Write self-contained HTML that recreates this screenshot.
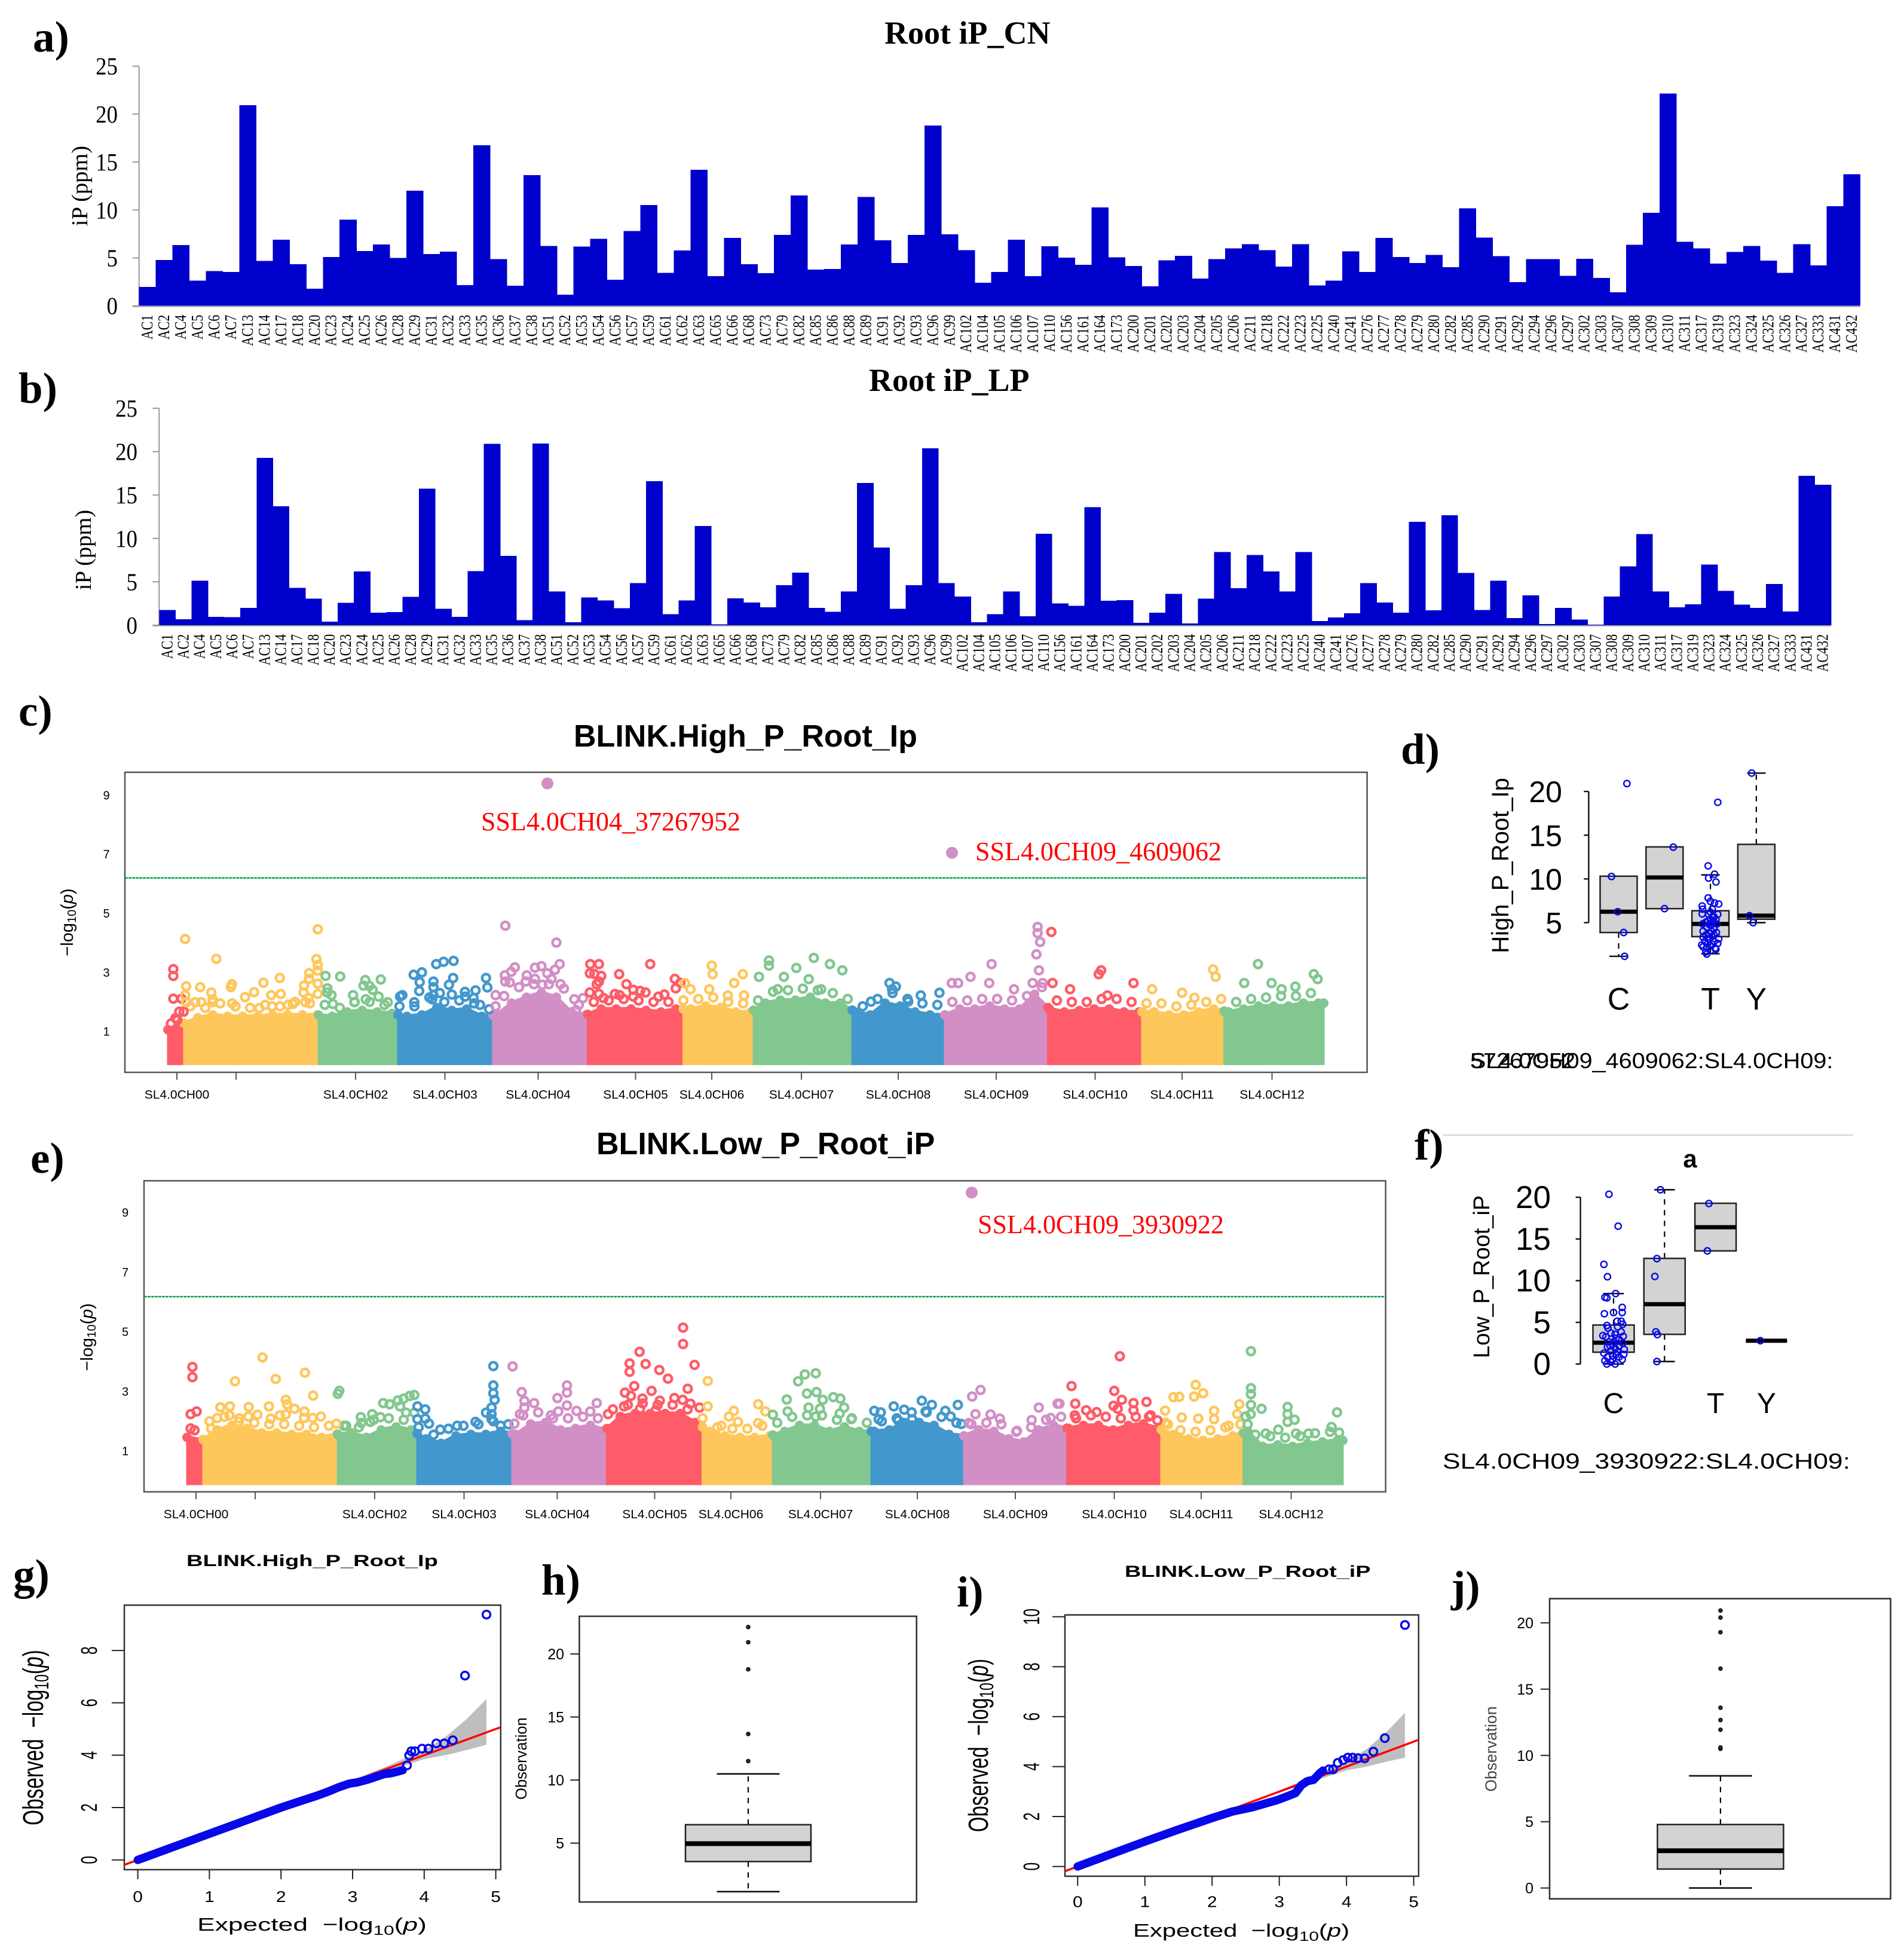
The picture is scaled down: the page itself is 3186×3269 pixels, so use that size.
<!DOCTYPE html>
<html lang="en">
<head>
<meta charset="utf-8">
<title>Root iP GWAS figure</title>
<style>
html,body{margin:0;padding:0;background:#fff;width:3186px;height:3269px;overflow:hidden}
svg{display:block}
.serif{font-family:"Liberation Serif",serif}
.sans{font-family:"Liberation Sans",sans-serif}
</style>
</head>
<body>
<svg id="figure" xmlns="http://www.w3.org/2000/svg" width="3186" height="3269" viewBox="0 0 3186 3269">
<rect x="0" y="0" width="3186" height="3269" fill="#fff"/>

<g class="serif" font-weight="700" font-size="73" fill="#000">
<text x="55" y="86">a)</text>
<text x="31" y="674">b)</text>
<text x="31" y="1214">c)</text>
<text x="2344" y="1278">d)</text>
<text x="51" y="1962">e)</text>
<text x="2367" y="1940">f)</text>
<text x="22" y="2659">g)</text>
<text x="906" y="2668">h)</text>
<text x="1601" y="2688">i)</text>
<text x="2428" y="2679">j)</text>
</g>

<g class="serif" font-weight="700" font-size="54" fill="#000">
<text x="1480" y="73">Root iP_CN</text>
<text x="1454" y="654">Root iP_LP</text>
</g>
<g class="serif" font-size="38.5" fill="#000" text-anchor="middle">
<text transform="translate(146,311) rotate(-90)">iP (ppm)</text>
<text transform="translate(152,920) rotate(-90)">iP (ppm)</text>
</g>

<g class="sans" font-weight="700" fill="#000">
<text x="960" y="1249" font-size="52">BLINK.High_P_Root_Ip</text>
<text x="998" y="1931" font-size="52">BLINK.Low_P_Root_iP</text>
<text transform="translate(312,2620) scale(1.41,1)" font-size="27">BLINK.High_P_Root_Ip</text>
<text transform="translate(1882,2638) scale(1.4,1)" font-size="27">BLINK.Low_P_Root_iP</text>
<text x="2828" y="1953" font-size="42" text-anchor="middle">a</text>
</g>

<g class="serif" font-size="44" fill="#f00">
<text x="805" y="1389">SSL4.0CH04_37267952</text>
<text x="1632" y="1439">SSL4.0CH09_4609062</text>
<text x="1636" y="2063">SSL4.0CH09_3930922</text>
</g>

<g class="sans" font-size="29" fill="#000" text-anchor="middle">
<text transform="translate(122,1543) rotate(-90)">−log<tspan font-size="20" dy="5">10</tspan><tspan dy="-5">(</tspan><tspan font-style="italic">p</tspan>)</text>
<text transform="translate(155,2237) rotate(-90)">−log<tspan font-size="20" dy="5">10</tspan><tspan dy="-5">(</tspan><tspan font-style="italic">p</tspan>)</text>
</g>

<g class="sans" fill="#000">
<text transform="translate(2524,1448) rotate(-90)" font-size="40" text-anchor="middle">High_P_Root_Ip</text>
<text transform="translate(2492,2136) rotate(-90)" font-size="38" text-anchor="middle">Low_P_Root_iP</text>
<text transform="translate(2460,1787) scale(1.1,1)" font-size="36">SL4.0CH09_4609062:SL4.0CH09:</text>
<text transform="translate(2460,1787) scale(1.1,1)" font-size="36">57267952</text>
<text transform="translate(2414,2457) scale(1.235,1)" font-size="36">SL4.0CH09_3930922:SL4.0CH09:</text>
<text transform="translate(72,2907) rotate(-90) scale(.695,1)" font-size="48" text-anchor="middle">Observed&#160;&#160;−log<tspan font-size="33" dy="9">10</tspan><tspan dy="-9">(</tspan><tspan font-style="italic">p</tspan>)</text>
<text transform="translate(1653,2920) rotate(-90) scale(.716,1)" font-size="46" text-anchor="middle">Observed&#160;&#160;−log<tspan font-size="32" dy="9">10</tspan><tspan dy="-9">(</tspan><tspan font-style="italic">p</tspan>)</text>
<text transform="translate(522,3230) scale(1.43,1)" font-size="31" text-anchor="middle">Expected&#160;&#160;−log<tspan font-size="22" dy="7">10</tspan><tspan dy="-7">(</tspan><tspan font-style="italic">p</tspan>)</text>
<text transform="translate(2077,3240) scale(1.35,1)" font-size="31" text-anchor="middle">Expected&#160;&#160;−log<tspan font-size="22" dy="7">10</tspan><tspan dy="-7">(</tspan><tspan font-style="italic">p</tspan>)</text>
<text transform="translate(881,2942) rotate(-90)" font-size="25.5" text-anchor="middle">Observation</text>
<text transform="translate(2504,2926) rotate(-90)" font-size="26.5" fill="#444" text-anchor="middle">Observation</text>
</g>
<line x1="2414" y1="1899" x2="3101" y2="1899" stroke="#d8d8d8" stroke-width="2.5"/>
</svg>

<script>
/* ---------- Panels a and b: accession bar charts ---------- */
const accessions = ["AC1","AC2","AC4","AC5","AC6","AC7","AC13","AC14","AC17","AC18","AC20","AC23","AC24","AC25","AC26","AC28","AC29","AC31","AC32","AC33","AC35","AC36","AC37","AC38","AC51","AC52","AC53","AC54","AC56","AC57","AC59","AC61","AC62","AC63","AC65","AC66","AC68","AC73","AC79","AC82","AC85","AC86","AC88","AC89","AC91","AC92","AC93","AC96","AC99","AC102","AC104","AC105","AC106","AC107","AC110","AC156","AC161","AC164","AC173","AC200","AC201","AC202","AC203","AC204","AC205","AC206","AC211","AC218","AC222","AC223","AC225","AC240","AC241","AC276","AC277","AC278","AC279","AC280","AC282","AC285","AC290","AC291","AC292","AC294","AC296","AC297","AC302","AC303","AC307","AC308","AC309","AC310","AC311","AC317","AC319","AC323","AC324","AC325","AC326","AC327","AC333","AC431","AC432"];
const rootIpCn = [1.98,4.77,6.35,2.62,3.63,3.55,20.94,4.7,6.89,4.34,1.79,5.1,8.99,5.73,6.39,5.0,12.0,5.39,5.65,2.17,16.75,4.87,2.1,13.65,6.25,1.17,6.2,6.99,2.72,7.82,10.52,3.44,5.77,14.19,3.1,7.08,4.34,3.41,7.39,11.5,3.77,3.86,6.39,11.35,6.85,4.48,7.39,18.8,7.47,5.82,2.41,3.55,6.89,3.1,6.23,5.03,4.29,10.28,5.06,4.17,2.03,4.75,5.22,2.86,4.87,6.01,6.42,5.82,4.1,6.42,2.12,2.62,5.68,3.55,7.08,5.08,4.46,5.3,4.03,10.16,7.11,5.2,2.48,4.87,4.87,3.12,4.91,2.91,1.43,6.37,9.71,22.14,6.68,6.01,4.41,5.61,6.25,4.72,3.44,6.42,4.22,10.4,13.72];
const rootIpLp = [1.75,0.69,5.14,0.96,0.93,1.99,19.27,13.72,4.3,3.05,0.42,2.58,6.19,1.45,1.52,3.27,15.73,1.89,0.96,6.22,20.9,7.99,0.59,20.94,3.88,0.34,3.2,2.85,1.97,4.84,16.59,1.28,2.85,11.43,0.1,3.1,2.63,2.06,4.62,6.07,1.99,1.55,3.88,16.4,8.95,1.89,4.62,20.38,4.84,3.32,0.34,1.28,3.88,1.03,10.55,2.51,2.24,13.59,2.83,2.88,0.27,1.45,3.61,0.2,3.05,8.43,4.28,8.09,6.19,3.88,8.43,0.49,0.91,1.38,4.84,2.63,1.45,11.92,1.72,12.68,6.02,1.77,5.14,0.84,3.44,0.15,1.99,0.66,0.07,3.32,6.78,10.5,3.88,2.06,2.41,6.98,3.96,2.38,1.99,4.74,1.6,17.23,16.17];
const barTicks = [0,5,10,15,20,25];

/* ---------- Panels c and e: Manhattan plots (x = cumulative Mb) ---------- */
const chromBounds = [0,10.8,100.8,154,217.6,281,345,392,458,520,589,652,707,773.6];
const chromTickMb = [6,45.6,125.6,185.4,247.8,313,364,424,488.8,554.4,620.6,678.8,739];
const chromTickLabels = ["SL4.0CH00","","SL4.0CH02","SL4.0CH03","SL4.0CH04","SL4.0CH05","SL4.0CH06","SL4.0CH07","SL4.0CH08","SL4.0CH09","SL4.0CH10","SL4.0CH11","SL4.0CH12"];
const logpTicks = [1,3,5,7,9];
const highThreshold = 6.2;
const lowThreshold = 6.18;
/* upper edge of the dense point mass, one value every 10 Mb */
const highEnvelope = [1.1,1.3,1.5,1.6,1.55,1.55,1.55,1.6,1.6,1.6,1.6,1.55,1.7,1.75,1.7,1.65,1.55,1.6,1.85,1.75,1.8,1.55,1.6,2.0,2.2,2.35,2.2,1.7,1.6,1.8,1.8,1.8,1.75,1.7,1.8,1.8,1.9,1.85,1.7,1.7,2.0,2.1,2.1,2.2,2.0,2.0,1.7,1.6,2.0,1.9,1.7,1.6,1.6,1.8,1.8,1.9,1.8,1.8,2.3,1.8,1.7,1.75,1.8,1.8,1.7,1.7,1.7,1.6,1.6,1.7,1.8,1.7,1.8,1.9,1.9,1.9,2.0,2.0];
const lowEnvelope = [1.5,1.4,1.75,1.9,1.8,1.65,1.65,1.6,1.6,1.5,1.6,1.65,1.5,1.75,1.85,1.75,1.45,1.3,1.55,1.6,1.6,1.7,1.6,1.95,2.0,1.75,1.8,1.9,1.75,2.2,2.3,2.3,2.3,2.3,2.0,1.7,1.55,1.5,1.5,1.55,1.7,1.9,1.9,1.7,1.85,1.7,1.7,1.75,2.0,2.0,1.9,1.6,1.55,1.75,1.7,1.45,1.35,1.75,1.9,1.8,1.9,1.9,1.75,1.9,1.95,1.8,1.6,1.45,1.4,1.45,1.55,1.7,1.2,1.25,1.2,1.3,1.35,1.4];
/* sparser ring fringe sitting just above the mass, one value at 5, 15, 25 ... Mb */
const highFringe = [1.45,1.85,1.8,1.95,1.85,1.8,1.9,1.85,2.0,1.95,1.9,1.8,2.0,2.0,1.9,1.85,1.85,2.15,2.0,2.05,1.95,1.75,2.2,2.5,2.6,2.6,2.45,1.9,2.0,2.05,2.1,2.05,2.0,2.0,2.05,2.1,2.15,2.0,1.95,2.05,2.35,2.4,2.45,2.4,2.3,2.1,1.85,2.1,2.3,2.1,1.95,1.9,2.0,2.05,2.1,2.1,2.05,2.2,2.5,2.05,2.0,2.0,2.1,2.1,2.0,1.95,1.95,1.85,1.9,2.0,2.1,2.0,2.1,2.15,2.2,2.2,2.3];
const lowFringe = [1.7,2.0,2.15,2.1,1.95,1.9,1.9,1.85,1.8,1.85,1.85,1.8,2.05,2.1,2.05,1.8,1.55,1.75,1.85,1.9,2.0,1.9,2.2,2.3,2.1,2.1,2.15,2.1,2.4,2.55,2.6,2.55,2.55,2.4,2.1,1.8,1.75,1.75,1.85,1.95,2.15,2.2,2.2,2.05,2.1,1.95,2.0,2.1,2.3,2.3,2.15,1.95,1.9,1.95,1.9,1.65,1.8,2.05,2.15,2.1,2.2,2.15,2.1,2.15,2.2,1.95,1.7,1.65,1.7,1.8,1.9,1.55,1.5,1.45,1.5,1.6,1.65];
/* individually visible markers: [Mb, -log10 p] */
const highHits = [[3.6,3.11],[3.6,2.88],[3.6,2.11],[9.1,2.11],[7.6,1.67],[10.5,1.67],[6.3,1.39],[2,1.27],
[11.5,4.13],[32.4,3.46],[100.3,4.46],[99.4,3.45],[100.3,3.25],[100.3,3.06],[94.5,2.97],[94.5,2.78],[74.9,2.81],[63.9,2.65],[42.8,2.6],[42.2,2.5],[21.6,2.5],[12.2,2.53],[11.5,2.23],[29,2.32],[29.9,2.09],[29.9,1.99],[57.7,2.33],[51.6,2.16],[75.5,2.27],[69.1,2.23],[91.1,2.55],[90.8,2.32],[100.3,2.62],[100.3,2.27],[94.2,2.13],[92,1.99],[12.2,1.99],[18.3,1.99],[22.3,1.99],[43,1.95],[45.2,1.85],[61.1,1.79],[69.7,1.85],[80.4,1.9],[83.5,1.93],
[105.5,2.88],[115.3,2.86],[132.1,2.74],[142.5,2.76],[130.9,2.55],[134.9,2.54],[137,2.41],[106.7,2.46],[106.7,2.32],[109.5,2.23],[123.9,2.23],[141,2.18],[110.4,1.93],[132.4,2.09],[147.1,1.99],[124.8,1.99],
[179.6,3.28],[184.5,3.36],[191.2,3.39],[170,3.0],[164.5,2.92],[168.5,2.67],[190.9,2.81],[177.7,2.69],[177.7,2.5],[188.1,2.58],[212.9,2.81],[213.8,2.49],[168.2,2.37],[156.9,2.23],[155.4,2.18],[182,2.3],[177.7,2.23],[190,2.25],[198.8,2.34],[205.9,2.39],[164.9,1.99],[176.8,2.09],[204.6,2.13],[198.8,2.18],[208.9,1.9],
[225.8,4.58],[260,4.01],[262.2,3.28],[232.2,3.17],[250,3.21],[245.7,3.16],[259.1,3.09],[253.9,2.97],[225.5,2.9],[229.8,3.02],[225.8,2.69],[228.8,2.66],[256.7,2.78],[240.2,2.9],[245.7,2.78],[239.5,2.69],[219.3,2.23],[219.3,1.85],[262.8,2.6],[250.6,2.58],[272,2.09],[277.8,2.13],[273.2,1.72],
[282.7,3.28],[288.5,3.28],[282.4,2.97],[285.4,2.95],[290,2.88],[288.5,2.69],[287,2.6],[322.8,3.28],[302,2.94],[306.9,2.6],[339.3,2.78],[343,2.65],[339.9,2.46],[311.5,2.41],[316.1,2.37],[319.7,2.32],[282.4,2.32],[288.5,2.27],[299.2,2.27],[302.3,2.23],[332.3,2.25],[328.3,2.18],[291.6,2.13],[311.5,2.18],
[364,3.23],[364.6,2.94],[346,2.64],[384.8,2.94],[349.8,2.43],[362.3,2.43],[379,2.64],[385.6,2.22],[374.8,2.22],
[402.3,3.4],[402.3,3.23],[432.3,3.49],[420.6,3.15],[443.1,3.28],[451.4,3.07],[395.6,2.85],[412.3,2.85],[428.9,2.77],[408.1,2.43],[437.2,2.43],
[483,2.64],[484.7,2.43],[487.2,2.52],[470.6,2.01],[503.9,2.22],[516.4,2.31],[495.5,2.01],
[582.1,4.54],[582.1,4.33],[583.8,4.03],[551.3,3.28],[581.3,3.61],[524.7,2.64],[528.9,2.64],[537.2,2.85],[549.7,2.64],[566.3,2.43],[583,3.07],[578.8,2.64],[585.5,2.64],
[591.3,4.37],[592.1,2.64],[624.6,3.07],[623,2.94],[646.3,2.64],[603.8,2.43],[628.8,2.22],
[699.6,3.1],[701.3,2.85],[658.8,2.43],[678.8,2.31],[687.1,2.14],
[729.6,3.28],[767,2.94],[769.5,2.77],[738.7,2.64],[754.6,2.52],[720.4,2.64],[745.4,2.43]];
const highPeaks = [[254,9.4],[524.8,7.05]];
const lowHits = [[3.6,3.82],[3.6,3.48],[6.4,2.33],[2.4,2.24],[2.4,1.76],
[50.5,4.14],[32.1,3.34],[59.3,3.42],[78.9,3.63],[84.4,2.86],[66.1,2.72],[67,2.57],[54.8,2.5],[22.3,2.47],[28.7,2.5],[41.3,2.48],[71.9,2.42],[41,2.16],[47.1,2.22],[66.1,2.23],[78.6,2.33],[89.6,2.16],[84.1,2.11],[56,2.09],[62.1,2.2],[78.3,2.11],[34.6,1.98],[28.4,2.2],[20.2,2.11],[16.2,1.76],[100,1.92],
[101.9,3.02],[100.9,2.92],[131.3,2.61],[135.6,2.57],[141.1,2.7],[145,2.76],[149,2.85],[152.1,2.88],[142.6,2.5],[146.6,2.29],[152.1,2.29],[123.9,2.24],[116.3,2.14],[129.4,2.14],[106.5,1.85],[116.6,1.94],[122.7,1.98],
[154.2,2.5],[159.4,2.4],[154.2,2.07],[159.4,2.09],[161.9,1.92],[169.5,1.72],[205,3.85],[205,3.2],[205,2.94],[205.9,2.72],[203.8,2.46],[200.1,2.29],[203.8,2.24],[203.8,2.07],[193.1,1.98],[180.8,1.85],[209.9,1.85],
[217.9,3.84],[224,2.98],[254.3,3.2],[254.3,2.96],[247.9,2.78],[225.8,2.68],[232.3,2.61],[254.3,2.53],[274.2,2.61],[222.8,2.24],[225.8,2.46],[248.5,2.33],[260.7,2.35],[269.9,2.33],[243.6,2.2],[219.1,1.92],
[332,5.14],[332,4.59],[302.9,4.33],[296.2,3.94],[306.9,3.92],[296.2,3.66],[339.7,3.89],[316.1,3.72],[321.9,3.43],[299.3,3.18],[335.1,3.09],[293.1,2.96],[297.1,2.85],[310.9,3.02],[304.8,2.76],[326.2,2.78],[331.7,2.72],[316.4,2.69],[336.9,2.59],[343,2.46],[292.5,2.5],[303.2,2.42],[281.8,2.24],[313.7,2.37],
[348.5,3.35],[348.5,2.5],[366,2.35],[382.3,2.57],[387.1,2.33],[362.7,2.16],[382.3,1.94],[368.8,1.98],[357.6,1.85],
[409,3.34],[413.5,3.57],[420.8,3.61],[414.9,2.93],[421.3,2.98],[401.4,2.73],[425.5,2.72],[432.6,2.81],[437.3,2.76],[439.8,2.46],[416,2.46],[402,2.33],[392.1,2.22],[423.6,2.42],[436.8,2.26],[420.8,2.16],[444.6,2.07],
[460,2.35],[464.3,2.3],[473,2.5],[480,2.39],[491.8,2.69],[498.5,2.55],[515.9,2.55],[494.3,2.33],[507.5,2.35],[476,2.03],[485.3,2.07],[511.1,2.16],[518.2,1.91],[462.9,2.07],
[531.1,3.05],[525.5,2.83],[570.1,2.46],[582.7,2.59],[583.9,2.59],[527.7,2.24],[537.8,2.23],[544,2.09],[565.3,2.04],[578,2.11],[523.2,1.94],[555.5,1.68],
[624.3,4.18],[592,3.18],[620.6,3.02],[625.7,2.72],[620.1,2.52],[622.9,2.42],[633.5,2.61],[642.2,2.65],[633.5,2.37],[594.5,2.59],[601.8,2.37],[608.8,2.31],[594.2,2.2],[643.9,2.16],[649.5,2.03],
[675.1,3.22],[674,2.83],[680.1,2.94],[660.2,2.81],[664.1,2.82],[654.6,2.36],[704.3,2.57],[702.9,2.24],[687.4,2.35],[665.8,2.13],[676.8,2.09],[687.4,2.07],[697.2,1.85],[656.6,1.9],
[712.1,4.35],[712.1,3.11],[712.1,2.91],[712.1,2.55],[719.2,2.42],[736.6,2.48],[736.6,2.24],[741.3,2.05],[736.6,1.98],[769.7,2.3],[708.5,2.16],[711.9,2.24],[709.9,1.9],[722,1.59],[730.4,1.72],[766,1.81],[771.1,1.62],[742.2,1.59],[750.6,1.59]];
const lowPeaks = [[525.2,9.67]];

/* ---------- Panels d and f: genotype boxplots ---------- */
const boxHighTicks = [5,10,15,20];
const boxHighLabels = ["C","","T","Y"];
const boxHighQ1 = [3.87,6.6,3.4,5.39];
const boxHighMedian = [6.25,10.16,4.85,5.8];
const boxHighQ3 = [10.31,13.66,6.36,13.95];
const boxHighLow = [1.15,6.6,1.44,5.0];
const boxHighHigh = [10.31,13.66,10.46,22.1];
/* jittered accessions: [group position, value] */
const boxHighPoints = [[0.18,20.9],[-0.155,10.28],[-0.02,6.25],[0.11,3.87],[0.13,1.15],[1.19,13.63],[1,6.6],[2.9,22.1],[2.85,5.8],[2.93,5.0],
[2.16,18.76],[1.95,11.49],[2.09,10.54],[1.96,10.1],[2.12,9.65],[1.95,7.82],[2,7.43],[2.09,7.25],[2.18,7.13],[1.82,6.9],[2.04,6.54],[1.83,6.54],[1.82,6],[2.16,5.95],[1.96,5.95],[2.08,5.65],[2,5.36],[1.83,4.85],[2.14,4.85],[1.98,4.76],[1.92,4.47],[2.08,4.32],[1.84,4.02],[2.02,4.02],[2.13,3.87],[1.9,3.58],[2.04,3.43],[1.84,3.34],[1.96,3.13],[2.18,3.13],[1.88,2.84],[2.08,2.84],[2.16,2.63],[1.81,2.45],[2,2.39],[1.92,2.15],[2.1,2.09],[1.84,2.24],[2,1.8],[1.9,1.65],[1.92,1.41],[2.12,1.95],[2,6.2],[2.04,5.65],[1.95,5.2],[2.12,5.36],[2.02,4.76],[1.9,5.05],[2.04,5.05],[1.98,3.73],[2.08,3.58],[1.95,2.69],[2.04,2.54]];
const boxLowTicks = [0,5,10,15,20];
const boxLowLabels = ["C","","T","Y"];
const boxLowQ1 = [1.42,3.56,13.57,2.8];
const boxLowMedian = [2.56,7.18,16.41,2.8];
const boxLowQ3 = [4.68,12.67,19.28,2.8];
const boxLowLow = [0,0.3,13.57,2.8];
const boxLowHigh = [8.45,20.9,19.28,2.8];
const boxLowPoints = [[0.92,20.9],[0.85,12.64],[0.81,10.5],[0.83,3.86],[0.86,3.53],[0.85,0.3],[1.87,19.25],[1.84,13.57],[2.88,2.8],
[-0.09,20.36],[0.09,16.53],[-0.19,11.95],[-0.12,10.47],[0.04,8.45],[-0.17,8],[-0.13,7.93],[0.17,6.79],[0,6.18],[0.17,6.18],[-0.18,6.03],[0.07,5.13],[0.15,5.13],[0.18,4.77],[-0.13,4.62],[-0.11,4.31],[0.08,4.46],[-0.05,3.71],[0.15,3.86],[-0.21,3.41],[0.19,3.32],[-0.15,3.26],[0.05,3.1],[-0.09,2.65],[0.18,2.5],[-0.02,2.35],[0.11,2.2],[-0.12,2.05],[0.03,1.9],[0.21,1.75],[-0.05,1.6],[-0.19,1.3],[0.08,1.45],[0.2,1.15],[-0.02,1],[0.11,0.84],[-0.12,0.84],[-0.17,0.39],[0.17,0.54],[-0.05,0.24],[0.03,0],[-0.13,0],[-0.02,0.54],[0.05,1.15],[-0.07,2.2],[0.01,2.65],[0.11,2.95],[0.03,3.56]];

/* ---------- Panels g and i: QQ plots ---------- */
const qqXTicks = [0,1,2,3,4,5];
const qqHighYTicks = [0,2,4,6,8];
const qqLowYTicks = [0,2,4,6,8,10];
const qqHighBulkExpected = [0,0.5,1,1.5,2,2.33,2.5,2.67,2.8,2.95,3.06,3.19,3.31,3.44,3.53,3.61,3.7];
const qqHighBulkObserved = [0,0.5,1,1.5,2,2.3,2.45,2.62,2.77,2.91,2.96,3.05,3.16,3.28,3.31,3.36,3.43];
const qqHighRingExpected = [3.76,3.79,3.82,3.87,3.97,4.06,4.17,4.28,4.4,4.57,4.87];
const qqHighRingObserved = [3.61,3.99,4.15,4.15,4.25,4.25,4.45,4.45,4.57,7.04,9.37];
const qqHighBandExpected = [3,3.5,4,4.3,4.6,4.87];
const qqHighBandUpper = [3.05,3.6,4.2,4.7,5.4,6.15];
const qqHighBandLower = [2.95,3.4,3.85,4.0,4.2,4.4];
const qqLowBulkExpected = [0,0.5,1,1.5,2,2.3,2.6,2.79,2.97,3.1,3.24,3.33,3.42,3.51,3.6,3.65];
const qqLowBulkObserved = [0,0.5,1,1.48,1.94,2.2,2.37,2.52,2.66,2.79,2.94,3.26,3.42,3.47,3.73,3.84];
const qqLowRingExpected = [3.74,3.8,3.87,3.95,4.02,4.09,4.17,4.27,4.4,4.57,4.87];
const qqLowRingObserved = [3.89,3.89,4.15,4.26,4.36,4.36,4.34,4.33,4.6,5.14,9.67];
const qqLowBandExpected = [3,3.5,4,4.3,4.6,4.87];
const qqLowBandUpper = [3.05,3.6,4.2,4.7,5.4,6.15];
const qqLowBandLower = [2.95,3.4,3.85,4.0,4.2,4.36];

/* ---------- Panels h and j: overall boxplots ---------- */
const overallHighTicks = [5,10,15,20];
const overallHighStats = [1.15,3.54,4.96,6.46,10.49];
const overallHighOutliers = [22.13,20.93,18.78,13.65,11.5];
const overallLowTicks = [0,5,10,15,20];
const overallLowStats = [0,1.43,2.81,4.79,8.46];
const overallLowOutliers = [20.93,20.4,19.29,16.55,13.6,12.67,11.94,10.5,10.6];

/* ---------- drawing helpers ---------- */
const NS = "http://www.w3.org/2000/svg";
const figure = document.getElementById("figure");
const CHROM_COLORS = ["#FE5C68","#FEC75C","#82C78F","#4298CC","#D28FC5"];
const POINT_BLUE = "#0808E8";

function shape(tag, attrs) {
  const el = document.createElementNS(NS, tag);
  for (const k in attrs) el.setAttribute(k, attrs[k]);
  figure.appendChild(el);
  return el;
}
function label(str, x, y, o) {
  const el = document.createElementNS(NS, "text");
  el.textContent = str;
  el.setAttribute("font-family", o.family || '"Liberation Sans", sans-serif');
  el.setAttribute("font-size", o.size);
  el.setAttribute("fill", o.fill || "#000");
  el.setAttribute("text-anchor", o.anchor || "middle");
  el.setAttribute("transform", `translate(${x},${y}) rotate(${o.rot || 0}) scale(${o.sx || 1},1)`);
  figure.appendChild(el);
  return el;
}

/* ---------- bar panels ---------- */
function drawBars(values, left, step, zeroY, unit, tickLabelX, panel) {
  const xOf = i => left + i * step;
  const yOf = v => zeroY - v * unit;
  const axis = shape("line", {x1:left, y1:yOf(25), x2:left, y2:zeroY, stroke:"#999", "stroke-width":2});
  
  
  const base = shape("line", {x1:left-11, y1:zeroY+1, x2:xOf(values.length), y2:zeroY+1, stroke:"#aaa", "stroke-width":2});
  
  
  barTicks.forEach(t => {
    const tick = shape("line", {x1:left-11, y1:yOf(t), x2:left, y2:yOf(t), stroke:"#999", "stroke-width":2});
    
    
    const tl = label(String(t), tickLabelX, yOf(t) + 14, {size:41, sx:0.9, anchor:"end", family:'"Liberation Serif", serif'});
    
    
  });
  values.forEach((v, i) => {
    const bar = shape("rect", {x:xOf(i), y:yOf(v), width:step + 0.6, height:zeroY - yOf(v), fill:"#0000CD", "shape-rendering":"crispEdges"});
    
    
    const cat = label(accessions[i], xOf(i) + step / 2 + 8.5, zeroY + 15, {size:27, sx:0.81, rot:-90, anchor:"end", family:'"Liberation Serif", serif'});
    
    
  });
}
drawBars(rootIpCn, 232.7, 27.96, 511.7, 16.04, 197, "root-ip-cn");
drawBars(rootIpLp, 266.3, 27.16, 1046, 14.52, 230, "root-ip-lp");

/* ---------- Manhattan panels ---------- */
function chromIndex(mb) {
  for (let c = 0; c < chromBounds.length - 1; c++) if (mb < chromBounds[c + 1]) return c;
  return chromBounds.length - 2;
}
function drawManhattan(o) {
  const xOf = mb => o.originX + mb * 2.5;
  const yOf = v => o.oneY - (v - 1) * o.unit;
  const envAt = mb => {
    const p = Math.min(o.envelope.length - 1.001, Math.max(0, mb / 10));
    const a = Math.floor(p);
    return o.envelope[a] + (o.envelope[a + 1] - o.envelope[a]) * (p - a);
  };
  const frame = shape("rect", {x:o.left, y:o.top, width:o.right - o.left, height:o.bottom - o.top, fill:"none", stroke:"#555", "stroke-width":2.5});
  
  

  for (let c = 0; c < chromBounds.length - 1; c++) {
    const color = CHROM_COLORS[c % 5];
    const a = chromBounds[c], b = chromBounds[c + 1];
    const xs = [a];
    for (let m = Math.ceil(a / 10) * 10; m < b; m += 10) if (m > a) xs.push(m);
    xs.push(b);
    let pts = `${xOf(a)},${yOf(-0.11)} `;
    xs.forEach(m => { pts += `${xOf(m)},${yOf(envAt(m))} `; });
    pts += `${xOf(b)},${yOf(-0.11)}`;
    const mass = shape("polygon", {points:pts, fill:color, stroke:color, "stroke-width":3});
    
    
    xs.forEach(m => {
      const r = shape("circle", {cx:xOf(m), cy:yOf(envAt(m)) + 2, r:6, fill:color, stroke:color, "stroke-width":4});
      
      
    });
  }
  o.fringe.forEach((v, i) => {
    const mb = 5 + i * 10;
    const ring = shape("circle", {cx:xOf(mb), cy:yOf(v), r:6.5, fill:"none", stroke:CHROM_COLORS[chromIndex(mb) % 5], "stroke-width":4.5});
    
    
  });
  o.hits.forEach(h => {
    const ring = shape("circle", {cx:xOf(h[0]), cy:yOf(h[1]), r:6.5, fill:"none", stroke:CHROM_COLORS[chromIndex(h[0]) % 5], "stroke-width":4.5});
    
    
  });
  o.peaks.forEach(h => {
    const peak = shape("circle", {cx:xOf(h[0]), cy:yOf(h[1]), r:10, fill:CHROM_COLORS[chromIndex(h[0]) % 5]});
    
    
  });
  const th = shape("line", {x1:o.left, y1:yOf(o.threshold), x2:o.right, y2:yOf(o.threshold), stroke:"#00A651", "stroke-width":2.5, "stroke-dasharray":"5 1"});
  
  
  logpTicks.forEach(t => {
    const tl = label(String(t), o.yLabelX, yOf(t) + 7, {size:20});
    
    
  });
  chromTickMb.forEach((mb, i) => {
    const tick = shape("line", {x1:xOf(mb), y1:o.bottom, x2:xOf(mb), y2:o.bottom + 12.5, stroke:"#555", "stroke-width":2});
    
    
    if (chromTickLabels[i]) {
      const tl = label(chromTickLabels[i], xOf(mb), o.bottom + 44, {size:20, sx:1.05});
      
      
    }
  });
}
drawManhattan({panel:"manhattan-high", originX:281, oneY:1725.6, unit:49.4, left:209, right:2287.6, top:1292, bottom:1794, yLabelX:178, threshold:highThreshold, envelope:highEnvelope, fringe:highFringe, hits:highHits, peaks:highPeaks});
drawManhattan({panel:"manhattan-low", originX:313, oneY:2427.7, unit:49.9, left:241, right:2318.6, top:1975.4, bottom:2495.8, yLabelX:209.6, threshold:lowThreshold, envelope:lowEnvelope, fringe:lowFringe, hits:lowHits, peaks:lowPeaks});

/* ---------- boxplot primitive ---------- */
function drawBox(cx, w, capW, yOf, lo, q1, med, q3, hi, panel, medW) {
  if (hi > q3) {
    const wh = shape("line", {x1:cx, y1:yOf(q3), x2:cx, y2:yOf(hi), stroke:"#000", "stroke-width":2.2, "stroke-dasharray":"9 9"});
    
    
    const cap = shape("line", {x1:cx - capW / 2, y1:yOf(hi), x2:cx + capW / 2, y2:yOf(hi), stroke:"#111", "stroke-width":2.6});
    
    
  }
  if (lo < q1) {
    const wh = shape("line", {x1:cx, y1:yOf(q1), x2:cx, y2:yOf(lo), stroke:"#000", "stroke-width":2.2, "stroke-dasharray":"9 9"});
    
    
    const cap = shape("line", {x1:cx - capW / 2, y1:yOf(lo), x2:cx + capW / 2, y2:yOf(lo), stroke:"#111", "stroke-width":2.6});
    
    
  }
  if (q3 > q1) {
    const box = shape("rect", {x:cx - w / 2, y:yOf(q3), width:w, height:yOf(q1) - yOf(q3), fill:"#D3D3D3", stroke:"#222", "stroke-width":2.5});
    
    
  }
  const m = shape("line", {x1:cx - w / 2, y1:yOf(med), x2:cx + w / 2, y2:yOf(med), stroke:"#000", "stroke-width":medW});
  
  
}

/* ---------- panels d, f ---------- */
function drawGenotypeBoxes(o) {
  const yOf = v => o.zeroY - v * o.unit;
  const xOf = g => o.firstX + g * o.step;
  const axis = shape("line", {x1:o.axisX, y1:yOf(o.ticks[0]), x2:o.axisX, y2:yOf(o.ticks[o.ticks.length - 1]), stroke:"#111", "stroke-width":2.4});
  
  
  o.ticks.forEach(t => {
    const tick = shape("line", {x1:o.axisX - 8, y1:yOf(t), x2:o.axisX, y2:yOf(t), stroke:"#111", "stroke-width":2.4});
    
    
    const tl = label(String(t), o.tickX, yOf(t) + 18, {size:o.tickSize, anchor:"end"});
    
    
  });
  o.labels.forEach((g, i) => {
    drawBox(xOf(i), o.boxW, o.boxW * 0.5, yOf, o.low[i], o.q1[i], o.med[i], o.q3[i], o.high[i], o.panel + "-group-" + i, 7);
    if (g) {
      const tl = label(g, xOf(i), o.labelY, {size:o.labelSize});
      
      
    }
  });
  o.points.forEach(p => {
    const ring = shape("circle", {cx:xOf(p[0]), cy:yOf(p[1]), r:5.2, fill:"none", stroke:POINT_BLUE, "stroke-width":2.4});
    
    
  });
}
drawGenotypeBoxes({panel:"boxplot-high", zeroY:1616.7, unit:14.63, firstX:2708.5, step:76.8, axisX:2658.4, tickX:2614, tickSize:50, labelY:1689, labelSize:52, boxW:62, ticks:boxHighTicks, labels:boxHighLabels, q1:boxHighQ1, med:boxHighMedian, q3:boxHighQ3, low:boxHighLow, high:boxHighHigh, points:boxHighPoints});
drawGenotypeBoxes({panel:"boxplot-low", zeroY:2282, unit:13.95, firstX:2700, step:85.3, axisX:2644.6, tickX:2595, tickSize:53, labelY:2364, labelSize:48, boxW:69, ticks:boxLowTicks, labels:boxLowLabels, q1:boxLowQ1, med:boxLowMedian, q3:boxLowQ3, low:boxLowLow, high:boxLowHigh, points:boxLowPoints});

/* ---------- panels g, i ---------- */
function drawQQ(o) {
  const xOf = v => o.x0 + v * o.xUnit;
  const yOf = v => o.y0 - v * o.yUnit;
  const frame = shape("rect", {x:o.left, y:o.top, width:o.right - o.left, height:o.bottom - o.top, fill:"none", stroke:"#333", "stroke-width":2.5});
  
  
  let band = "";
  o.bandX.forEach((e, i) => { band += `${xOf(e)},${yOf(o.bandUp[i])} `; });
  for (let i = o.bandX.length - 1; i >= 0; i--) band += `${xOf(o.bandX[i])},${yOf(o.bandLo[i])} `;
  const ci = shape("polygon", {points:band, fill:"#BEBEBE"});
  
  
  const lo = (o.left - o.x0) / o.xUnit, hi = (o.right - o.x0) / o.xUnit;
  const ref = shape("line", {x1:xOf(lo), y1:yOf(lo), x2:xOf(hi), y2:yOf(hi), stroke:"#F00", "stroke-width":3.5});
  
  
  const bulk = shape("polyline", {points:o.bulkX.map((e, i) => `${xOf(e)},${yOf(o.bulkY[i])}`).join(" "), fill:"none", stroke:POINT_BLUE, "stroke-width":14, "stroke-linecap":"round", "stroke-linejoin":"round"});
  
  
  o.ringX.forEach((e, i) => {
    const ring = shape("circle", {cx:xOf(e), cy:yOf(o.ringY[i]), r:6.5, fill:"none", stroke:POINT_BLUE, "stroke-width":3.4});
    
    
  });
  o.xTicks.forEach(t => {
    const tick = shape("line", {x1:xOf(t), y1:o.bottom, x2:xOf(t), y2:o.bottom + 16, stroke:"#222", "stroke-width":2});
    
    
    const tl = label(String(t), xOf(t), o.xLabelY, {size:26, sx:1.15});
    
    
  });
  o.yTicks.forEach(t => {
    const tick = shape("line", {x1:o.left - 21, y1:yOf(t), x2:o.left, y2:yOf(t), stroke:"#222", "stroke-width":2});
    
    
    const tl = label(String(t), o.yLabelX, yOf(t), {size:38, sx:0.65, rot:-90});
    
    
  });
}
drawQQ({panel:"qq-high", x0:230.6, xUnit:119.8, y0:3111.6, yUnit:43.8, left:208, right:837.8, top:2685.4, bottom:3127.9, xLabelY:3182, yLabelX:162, xTicks:qqXTicks, yTicks:qqHighYTicks, bandX:qqHighBandExpected, bandUp:qqHighBandUpper, bandLo:qqHighBandLower, bulkX:qqHighBulkExpected, bulkY:qqHighBulkObserved, ringX:qqHighRingExpected, ringY:qqHighRingObserved});
drawQQ({panel:"qq-low", x0:1803.3, xUnit:112.46, y0:3122.6, yUnit:41.78, left:1782, right:2373.8, top:2701.7, bottom:3138.9, xLabelY:3190.7, yLabelX:1739, xTicks:qqXTicks, yTicks:qqLowYTicks, bandX:qqLowBandExpected, bandUp:qqLowBandUpper, bandLo:qqLowBandLower, bulkX:qqLowBulkExpected, bulkY:qqLowBulkObserved, ringX:qqLowRingExpected, ringY:qqLowRingObserved});

/* ---------- panels h, j ---------- */
function drawOverall(o) {
  const yOf = v => o.zeroY - v * o.unit;
  const frame = shape("rect", {x:o.left, y:o.top, width:o.right - o.left, height:o.bottom - o.top, fill:"none", stroke:"#333", "stroke-width":2.6});
  
  
  o.ticks.forEach(t => {
    const tick = shape("line", {x1:o.left - 15, y1:yOf(t), x2:o.left, y2:yOf(t), stroke:"#333", "stroke-width":2.2});
    
    
    const tl = label(String(t), o.tickX, yOf(t) + 9, {size:25, anchor:"end"});
    
    
  });
  const s = o.stats;
  drawBox(o.cx, o.boxW, o.boxW * 0.5, yOf, s[0], s[1], s[2], s[3], s[4], o.panel, 8);
  o.outliers.forEach(v => {
    const dot = shape("circle", {cx:o.cx, cy:yOf(v), r:2.8, fill:"#333", stroke:"#111", "stroke-width":2});
    
    
  });
}
drawOverall({panel:"box-high", zeroY:3189, unit:21.1, cx:1252, boxW:210, left:969.4, right:1533.7, top:2704, bottom:3182, tickX:944, ticks:overallHighTicks, stats:overallHighStats, outliers:overallHighOutliers});
drawOverall({panel:"box-low", zeroY:3158.6, unit:22.18, cx:2878.9, boxW:211, left:2593, right:3163.5, top:2674.5, bottom:3176.7, tickX:2566, ticks:overallLowTicks, stats:overallLowStats, outliers:overallLowOutliers});
</script>
</body>
</html>
